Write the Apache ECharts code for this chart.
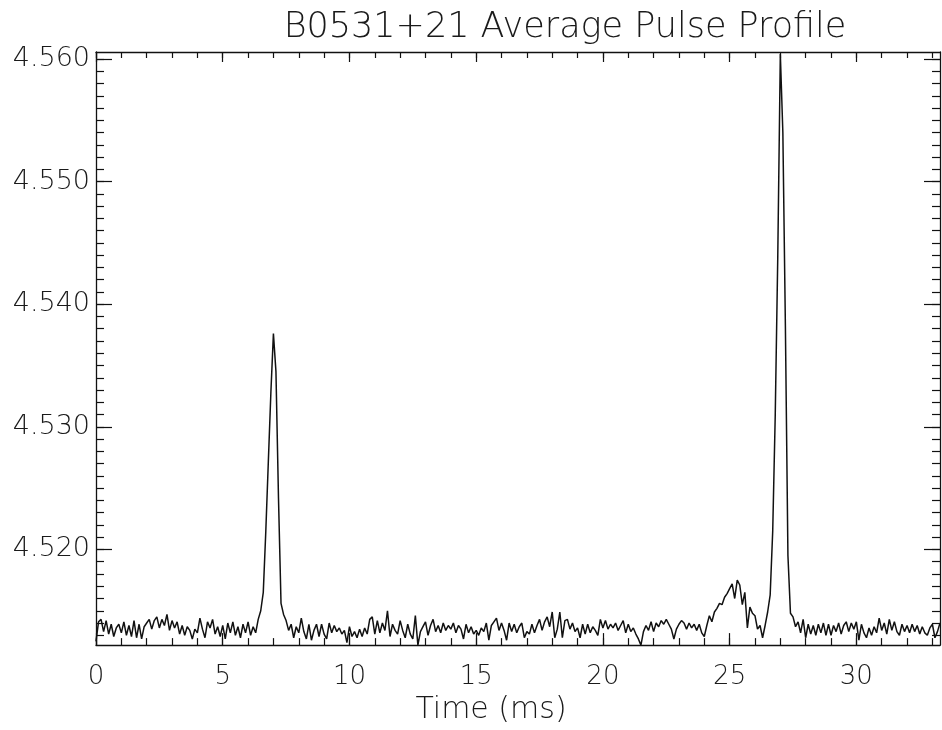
<!DOCTYPE html>
<html><head><meta charset="utf-8">
<script src="https://cdn.jsdelivr.net/npm/echarts@6/dist/echarts.min.js"></script>
<style>html,body{margin:0;padding:0;background:#fff}#c{width:942px;height:730px}</style>
</head><body><div id="c"></div>
<script>
const chartTitle = 'B0531+21 Average Pulse Profile';
const xName = 'Time (ms)';
const tStart = 0, tStep = 0.1;
const flux = [
4.5125,4.5141,4.5143,4.5133,4.5142,4.5131,4.5139,4.5129,4.5136,4.5139,
4.5132,4.5141,4.5130,4.5138,4.5129,4.5142,4.5128,4.5139,4.5127,4.5137,
4.5140,4.5143,4.5135,4.5142,4.5145,4.5136,4.5143,4.5138,4.5147,4.5134,
4.5142,4.5136,4.5141,4.5131,4.5138,4.5130,4.5137,4.5134,4.5127,4.5135,
4.5132,4.5144,4.5135,4.5128,4.5141,4.5136,4.5143,4.5131,4.5137,4.5129,
4.5138,4.5127,4.5140,4.5132,4.5141,4.5130,4.5137,4.5128,4.5139,4.5132,
4.5141,4.5130,4.5137,4.5132,4.5143,4.5150,4.5165,4.5215,4.5272,4.5328,
4.5376,4.5345,4.5242,4.5156,4.5147,4.5142,4.5134,4.5139,4.5128,4.5137,
4.5132,4.5144,4.5133,4.5127,4.5139,4.5126,4.5134,4.5139,4.5129,4.5139,
4.5131,4.5127,4.5140,4.5132,4.5138,4.5133,4.5136,4.5131,4.5134,4.5124,
4.5137,4.5129,4.5133,4.5128,4.5135,4.5129,4.5136,4.5131,4.5143,4.5145,
4.5131,4.5142,4.5132,4.5140,4.5134,4.5150,4.5129,4.5139,4.5134,4.5131,
4.5142,4.5134,4.5128,4.5139,4.5131,4.5127,4.5146,4.5122,4.5133,4.5137,
4.5141,4.5130,4.5138,4.5143,4.5133,4.5138,4.5132,4.5140,4.5134,4.5138,
4.5135,4.5140,4.5132,4.5138,4.5135,4.5127,4.5139,4.5132,4.5137,4.5131,
4.5134,4.5130,4.5136,4.5133,4.5140,4.5126,4.5138,4.5141,4.5144,4.5134,
4.5140,4.5134,4.5126,4.5140,4.5133,4.5139,4.5132,4.5137,4.5140,4.5128,
4.5133,4.5131,4.5139,4.5132,4.5138,4.5143,4.5134,4.5141,4.5145,4.5137,
4.5149,4.5128,4.5135,4.5149,4.5128,4.5142,4.5143,4.5135,4.5140,4.5133,
4.5136,4.5128,4.5139,4.5131,4.5139,4.5132,4.5137,4.5134,4.5130,4.5143,
4.5136,4.5142,4.5135,4.5139,4.5136,4.5140,4.5134,4.5138,4.5142,4.5132,
4.5139,4.5133,4.5136,4.5131,4.5127,4.5122,4.5133,4.5138,4.5134,4.5141,
4.5133,4.5140,4.5137,4.5142,4.5139,4.5143,4.5139,4.5135,4.5127,4.5135,
4.5139,4.5142,4.5140,4.5135,4.5140,4.5136,4.5139,4.5134,4.5139,4.5132,
4.5129,4.5138,4.5146,4.5141,4.5149,4.5152,4.5156,4.5155,4.5161,4.5164,
4.5168,4.5172,4.5160,4.5175,4.5171,4.5155,4.5165,4.5136,4.5153,4.5148,
4.5146,4.5135,4.5138,4.5128,4.5138,4.5149,4.5163,4.5215,4.5310,4.5440,
4.5604,4.5540,4.5382,4.5195,4.5148,4.5145,4.5137,4.5141,4.5132,4.5143,
4.5128,4.5139,4.5131,4.5138,4.5130,4.5139,4.5132,4.5140,4.5130,4.5139,
4.5130,4.5138,4.5133,4.5140,4.5131,4.5138,4.5141,4.5133,4.5140,4.5135,
4.5141,4.5126,4.5139,4.5132,4.5128,4.5136,4.5130,4.5137,4.5132,4.5144,
4.5134,4.5140,4.5131,4.5143,4.5134,4.5141,4.5133,4.5130,4.5139,4.5133,
4.5138,4.5132,4.5139,4.5133,4.5138,4.5131,4.5137,4.5132,4.5130,4.5136,
4.5139,4.5128,4.5133,4.5140
];
const xRange = [0, 33.3];
const yRange = [4.5122, 4.56057];
const xMajorTicks = [0, 5, 10, 15, 20, 25, 30];
const xMinorTicks = [0,1,2,3,4,5,6,7,8,9,10,11,12,13,14,15,16,17,18,19,20,21,22,23,24,25,26,27,28,29,30,31,32,33];
const yMajorTicks = [4.52, 4.53, 4.54, 4.55, 4.56];
const yMinorTicks = [];
for (let k = 4513; k <= 4560; k++) yMinorTicks.push(k / 1000);

const FONT = 'DejaVu Sans';
const INK = '#111';
const TXT = '#1a1a1a';
const seriesData = flux.map((v, i) => [+(tStart + i * tStep).toFixed(2), v]);

function xAx(pos, ticks, len, labels, line) {
  return {
    type: 'value', position: pos, min: xRange[0], max: xRange[1],
    axisLine: { show: line, onZero: false, lineStyle: { color: INK, width: 1.3 } },
    axisTick: { show: true, inside: true, length: len, customValues: ticks, lineStyle: { color: INK, width: 1.2 } },
    axisLabel: labels ? { show: true, customValues: xMajorTicks, margin: 19, fontSize: 26, fontWeight: 200, fontFamily: FONT, color: TXT } : { show: false },
    splitLine: { show: false }
  };
}
function yAx(pos, ticks, len, labels, line) {
  return {
    type: 'value', position: pos, min: yRange[0], max: yRange[1],
    axisLine: { show: line, onZero: false, lineStyle: { color: INK, width: 1.3 } },
    axisTick: { show: true, inside: true, length: len, customValues: ticks, lineStyle: { color: INK, width: 1.2 } },
    axisLabel: labels ? { show: true, customValues: yMajorTicks, margin: 6, fontSize: 27, fontWeight: 200, fontFamily: FONT, color: TXT,
      formatter: v => v.toFixed(3) } : { show: false },
    splitLine: { show: false }
  };
}

const xMain = xAx('bottom', xMajorTicks, 12, true, true);
xMain.name = xName;
xMain.nameLocation = 'middle';
xMain.nameGap = 22;
xMain.nameTextStyle = { fontSize: 30, fontWeight: 200, fontFamily: FONT, color: TXT, padding: [0, 54, 0, 0] };

const chart = echarts.init(document.getElementById('c'), null, { renderer: 'canvas' });
chart.setOption({
  animation: false,
  backgroundColor: '#fff',
  title: {
    text: chartTitle, left: 560, top: 5, textAlign: 'center',
    textStyle: { fontSize: 35, fontWeight: 200, fontFamily: FONT, color: TXT }
  },
  grid: { left: 96, right: 2, top: 52, bottom: 83, containLabel: false },
  xAxis: [
    xMain,
    xAx('bottom', xMinorTicks, 7, false, false),
    xAx('top', xMajorTicks, 10, false, true),
    xAx('top', xMinorTicks, 6, false, false)
  ],
  yAxis: [
    yAx('left', yMajorTicks, 16, true, true),
    yAx('left', yMinorTicks, 8, false, false),
    yAx('right', yMajorTicks, 16, false, true),
    yAx('right', yMinorTicks, 8, false, false)
  ],
  series: [{
    type: 'line', xAxisIndex: 0, yAxisIndex: 0, data: seriesData,
    showSymbol: false, symbol: 'none', smooth: false,
    lineStyle: { color: INK, width: 1.5 }
  }]
});
</script></body></html>
